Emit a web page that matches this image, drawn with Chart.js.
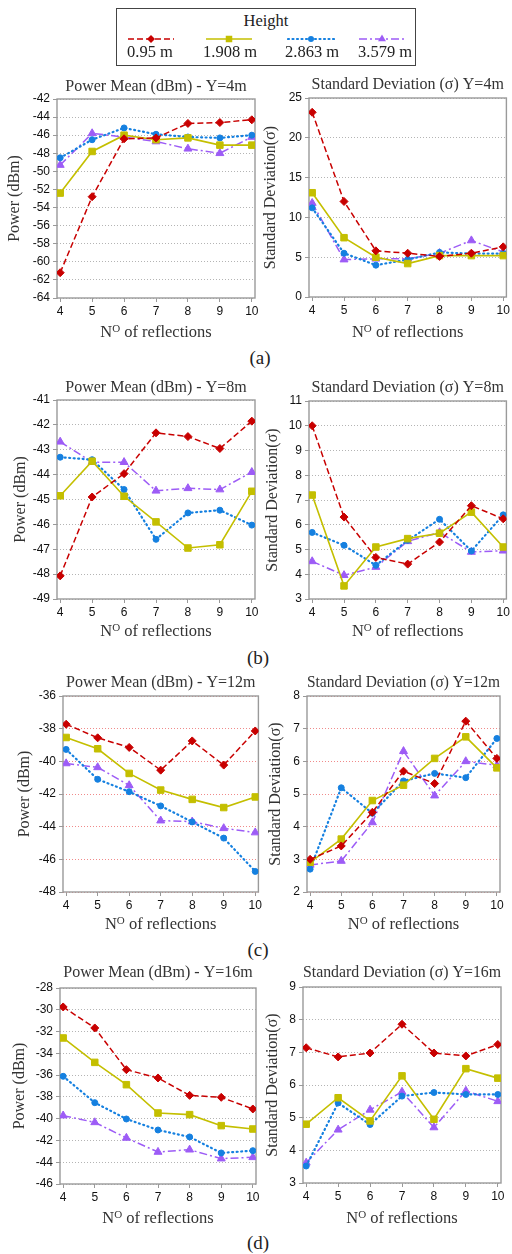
<!DOCTYPE html>
<html>
<head>
<meta charset="utf-8">
<title>Power mean and standard deviation vs. number of reflections</title>
<script src="https://cdn.jsdelivr.net/npm/chart.js"></script>
<style>
  body { margin: 0; background: #fff; width: 512px; height: 1254px; position: relative; overflow: hidden; font-family: "Liberation Serif", "Times New Roman", serif; color: #222; }
  canvas.panel { position: absolute; }
  .tag { position: absolute; font-size: 19px; transform: translate(-50%, -50%); white-space: nowrap; }
  #legend { position: absolute; left: 116px; top: 8px; width: 298px; height: 56px; border: 1px solid #444; }
  #legend .head { position: absolute; left: 0; width: 100%; top: 2px; text-align: center; font-size: 16.5px; }
  #legend .lbl { position: absolute; top: 33px; font-size: 16.5px; white-space: nowrap; }
  #legend canvas { position: absolute; top: 25px; }
</style>
</head>
<body>
<div id="legend"><div class="head">Height</div></div>
<div class="tag" style="left:260px; top:358px;">(a)</div>
<div class="tag" style="left:258px; top:658px;">(b)</div>
<div class="tag" style="left:258px; top:950px;">(c)</div>
<div class="tag" style="left:258px; top:1243px;">(d)</div>

<script>
// x axis: number of reflections
const reflections = [4, 5, 6, 7, 8, 9, 10];
// receiver heights (one series each)
const heights = ['0.95 m', '1.908 m', '2.863 m', '3.579 m'];

// Power mean (dBm), Y = 4 m
const pm4_095  = [-61.2, -52.8, -46.4, -46.3, -44.7, -44.6, -44.3];
const pm4_1908 = [-52.4, -47.8, -46.0, -46.5, -46.3, -47.1, -47.1];
const pm4_2863 = [-48.5, -46.5, -45.2, -45.9, -46.2, -46.3, -46.0];
const pm4_3579 = [-49.3, -45.8, -46.2, -46.7, -47.5, -48.0, -46.2];
// Standard deviation, Y = 4 m
const sd4_095  = [23.2, 12.0, 5.8, 5.5, 5.1, 5.5, 6.3];
const sd4_1908 = [13.1, 7.45, 5.0, 4.2, 5.2, 5.2, 5.2];
const sd4_2863 = [11.2, 5.5, 4.0, 4.7, 5.6, 5.45, 5.45];
const sd4_3579 = [11.8, 4.7, 4.8, 4.8, 5.5, 7.1, 5.65];

// Power mean (dBm), Y = 8 m
const pm8_095  = [-48.07, -44.9, -43.96, -42.32, -42.47, -42.95, -41.85];
const pm8_1908 = [-44.85, -43.46, -44.87, -45.9, -46.95, -46.82, -44.67];
const pm8_2863 = [-43.3, -43.4, -44.6, -46.6, -45.54, -45.43, -46.03];
const pm8_3579 = [-42.68, -43.5, -43.5, -44.65, -44.55, -44.6, -43.9];
// Standard deviation, Y = 8 m
const sd8_095  = [10.0, 6.31, 4.68, 4.41, 5.3, 6.77, 6.24];
const sd8_1908 = [7.2, 3.53, 5.1, 5.44, 5.66, 6.51, 5.1];
const sd8_2863 = [5.69, 5.17, 4.36, 5.37, 6.22, 4.94, 6.4];
const sd8_3579 = [4.52, 3.96, 4.29, 5.33, 5.69, 4.9, 4.95];

// Power mean (dBm), Y = 12 m
const pm12_095  = [-37.73, -38.56, -39.15, -40.54, -38.75, -40.23, -38.14];
const pm12_1908 = [-38.54, -39.23, -40.74, -41.76, -42.33, -42.83, -42.18];
const pm12_2863 = [-39.27, -41.1, -41.86, -42.73, -43.71, -44.7, -46.74];
const pm12_3579 = [-40.13, -40.37, -41.47, -43.63, -43.69, -44.1, -44.36];
// Standard deviation, Y = 12 m
const sd12_095  = [3.0, 3.41, 4.44, 5.7, 5.32, 7.23, 6.09];
const sd12_1908 = [2.91, 3.62, 4.8, 5.27, 6.09, 6.75, 5.8];
const sd12_2863 = [2.7, 5.19, 4.41, 5.4, 5.63, 5.5, 6.7];
const sd12_3579 = [2.83, 2.95, 4.13, 6.31, 4.95, 6.0, 5.88];

// Power mean (dBm), Y = 16 m
const pm16_095  = [-29.74, -31.67, -35.5, -36.26, -37.86, -38.04, -39.11];
const pm16_1908 = [-32.59, -34.83, -36.88, -39.48, -39.63, -40.64, -40.95];
const pm16_2863 = [-36.11, -38.53, -40.03, -41.04, -41.68, -43.15, -42.94];
const pm16_3579 = [-39.72, -40.34, -41.77, -43.06, -42.85, -43.67, -43.55];
// Standard deviation, Y = 16 m
const sd16_095  = [7.14, 6.86, 6.98, 7.86, 6.98, 6.89, 7.24];
const sd16_1908 = [4.8, 5.61, 4.9, 6.28, 4.95, 6.5, 6.21];
const sd16_2863 = [3.52, 5.45, 4.79, 5.66, 5.77, 5.71, 5.71];
const sd16_3579 = [3.62, 4.63, 5.24, 5.79, 4.7, 5.82, 5.5];

// line / marker look per height
const seriesColors = ['#c80000', '#c4bf00', '#1580e0', '#9d5cf6'];
const seriesDash = [[6, 3], [], [1, 3.5], [8, 3, 2, 3]];
const seriesWidth = [1.5, 1.6, 2.2, 1.5];
const seriesPoint = ['rectRot', 'rect', 'circle', 'triangle'];
const seriesRadius = [4, 4.6, 3, 4.6];

const SERIF = '"Liberation Serif", "Times New Roman", serif';
const SANS = '"Liberation Sans", Arial, sans-serif';

// panel geometry: plot box [left, top, right, bottom], title centre y, y-title centre x
const panels = [
  { side: 'L', box: [57, 99, 255, 298], titleY: 87, yTitleX: 15, xOff: 34, min: -64, max: -42, step: 2,
    title: 'Power Mean (dBm) - Y=4m', yTitle: 'Power (dBm)', series: [pm4_095, pm4_1908, pm4_2863, pm4_3579] },
  { side: 'R', box: [309, 98, 507, 297], titleY: 85, yTitleX: 271, xOff: 35, min: 0, max: 25, step: 5,
    title: 'Standard Deviation (σ) Y=4m', yTitle: 'Standard Deviation(σ)', series: [sd4_095, sd4_1908, sd4_2863, sd4_3579] },
  { side: 'L', box: [57, 400, 255, 599], titleY: 388, yTitleX: 21, xOff: 32, min: -49, max: -41, step: 1,
    title: 'Power Mean (dBm) - Y=8m', yTitle: 'Power (dBm)', series: [pm8_095, pm8_1908, pm8_2863, pm8_3579] },
  { side: 'R', box: [309, 401, 507, 599], titleY: 388, yTitleX: 273, xOff: 32, min: 3, max: 11, step: 1,
    title: 'Standard Deviation (σ) Y=8m', yTitle: 'Standard Deviation(σ)', series: [sd8_095, sd8_1908, sd8_2863, sd8_3579] },
  { side: 'L', box: [63, 696, 259, 892], titleY: 683, yTitleX: 25, xOff: 32, min: -48, max: -36, step: 2, grid: '#f08a8a',
    title: 'Power Mean (dBm) - Y=12m', yTitle: 'Power (dBm)', series: [pm12_095, pm12_1908, pm12_2863, pm12_3579] },
  { side: 'R', box: [307, 696, 500, 892], titleY: 683, yTitleX: 276, xOff: 32, min: 2, max: 8, step: 1, grid: '#f08a8a',
    title: 'Standard Deviation (σ) Y=12m', yTitle: 'Standard Deviation(σ)', series: [sd12_095, sd12_1908, sd12_2863, sd12_3579] },
  { side: 'L', box: [60, 988, 256, 1184], titleY: 973, yTitleX: 20, xOff: 34, min: -46, max: -28, step: 2,
    title: 'Power Mean (dBm) - Y=16m', yTitle: 'Power (dBm)', series: [pm16_095, pm16_1908, pm16_2863, pm16_3579] },
  { side: 'R', box: [303, 987, 501, 1183], titleY: 973, yTitleX: 273, xOff: 35, min: 3, max: 9, step: 1,
    title: 'Standard Deviation (σ) Y=16m', yTitle: 'Standard Deviation(σ)', series: [sd16_095, sd16_1908, sd16_2863, sd16_3579] }
];

// grey frame around the plot area
const framePlugin = {
  id: 'frame',
  beforeDatasetsDraw(chart) {
    const { ctx, chartArea: a } = chart;
    ctx.save();
    ctx.strokeStyle = '#9a9a9a';
    ctx.lineWidth = 1.4;
    ctx.strokeRect(a.left, a.top, a.right - a.left, a.bottom - a.top);
    ctx.restore();
  }
};

// "N^O of reflections" with a raised O
const reflTitlePlugin = {
  id: 'reflTitle',
  afterDraw(chart, args, opts) {
    const { ctx, chartArea: a } = chart;
    const base = a.bottom + opts.offset + 5;
    ctx.save();
    ctx.fillStyle = '#333';
    ctx.textBaseline = 'alphabetic';
    ctx.font = '16.5px ' + SERIF;
    const w1 = ctx.measureText('N').width;
    const w3 = ctx.measureText(' of reflections').width;
    ctx.font = '11px ' + SERIF;
    const w2 = ctx.measureText('O').width;
    let x = (a.left + a.right) / 2 - (w1 + w2 + w3) / 2;
    ctx.font = '16.5px ' + SERIF;
    ctx.fillText('N', x, base);
    ctx.font = '11px ' + SERIF;
    ctx.fillText('O', x + w1, base - 5);
    ctx.font = '16.5px ' + SERIF;
    ctx.fillText(' of reflections', x + w1 + w2, base);
    ctx.restore();
  }
};

function makePanel(p) {
  const cx = p.side === 'L' ? 0 : 258;
  const cw = p.side === 'L' ? 264 : 254;
  const cy = Math.round(p.titleY - 9.6);
  const xh = 46;
  const ch = p.box[3] + xh - cy;
  const pl = p.yTitleX - 9.6 - cx;
  const yw = p.box[0] - cx - pl;
  const pr = cx + cw - p.box[2];
  const tb = p.box[1] - cy - 19.2;

  const cv = document.createElement('canvas');
  cv.className = 'panel';
  cv.width = cw;
  cv.height = ch;
  cv.style.left = cx + 'px';
  cv.style.top = cy + 'px';
  document.body.appendChild(cv);

  const gridColor = p.grid || '#b4b4b4';

  new Chart(cv, {
    type: 'line',
    data: {
      datasets: p.series.map((vals, i) => ({
        label: heights[i],
        data: reflections.map((x, k) => ({ x: x, y: vals[k] })),
        borderColor: seriesColors[i],
        backgroundColor: seriesColors[i],
        borderDash: seriesDash[i],
        borderWidth: seriesWidth[i],
        borderCapStyle: i === 2 ? 'round' : 'butt',
        pointStyle: seriesPoint[i],
        pointRadius: seriesRadius[i],
        pointBorderWidth: 1,
        tension: 0,
        fill: false
      }))
    },
    options: {
      responsive: false,
      animation: false,
      layout: { padding: { left: pl, right: pr, top: 0, bottom: 0 } },
      plugins: {
        legend: { display: false },
        tooltip: { enabled: false },
        title: {
          display: true, text: p.title, fullSize: false, color: '#333',
          font: { family: SERIF, size: 16, weight: 'normal', lineHeight: 1.2 },
          padding: { top: 0, bottom: tb }
        },
        reflTitle: { offset: p.xOff }
      },
      scales: {
        x: {
          type: 'linear', min: 3.9, max: 10.1,
          afterBuildTicks: s => { s.ticks = reflections.map(v => ({ value: v })); },
          afterFit: s => { s.height = xh; s.paddingLeft = 0; s.paddingRight = 0; },
          grid: { drawOnChartArea: false, tickLength: 4, color: '#999' },
          border: { display: false },
          ticks: { font: { family: SANS, size: 12 }, color: '#111', padding: 2, autoSkip: false, maxRotation: 0 }
        },
        y: {
          min: p.min, max: p.max,
          afterFit: s => { s.width = yw; s.paddingTop = 0; s.paddingBottom = 0; },
          grid: { color: gridColor, tickColor: '#999', tickLength: 4 },
          border: { display: false, dash: [1, 2] },
          ticks: { stepSize: p.step, font: { family: SANS, size: 12 }, color: '#111', padding: 3, autoSkip: false },
          title: {
            display: true, text: p.yTitle, color: '#333', padding: 0,
            font: { family: SERIF, size: 16, weight: 'normal', lineHeight: 1.2 }
          }
        }
      }
    },
    plugins: [framePlugin, reflTitlePlugin]
  });
}

panels.forEach(makePanel);

// legend samples (line + marker) and labels
function drawMarker(ctx, style, x, y, r) {
  ctx.beginPath();
  if (style === 'circle') {
    ctx.arc(x, y, r, 0, Math.PI * 2);
  } else if (style === 'rect') {
    const s = r * Math.SQRT1_2;
    ctx.rect(x - s, y - s, 2 * s, 2 * s);
  } else if (style === 'rectRot') {
    ctx.moveTo(x, y - r); ctx.lineTo(x + r, y); ctx.lineTo(x, y + r); ctx.lineTo(x - r, y); ctx.closePath();
  } else {
    const h = r * 1.5, s = r * 0.866;
    ctx.moveTo(x, y - r); ctx.lineTo(x + s, y + h - r); ctx.lineTo(x - s, y + h - r); ctx.closePath();
  }
  ctx.fill();
}

const legendBox = document.getElementById('legend');
const legendLeft = [10, 88, 170, 241];
const labelLeft = [10, 86, 168, 241];
heights.forEach((h, i) => {
  const c = document.createElement('canvas');
  c.width = 48; c.height = 10;
  c.style.left = legendLeft[i] + 'px';
  legendBox.appendChild(c);
  const g = c.getContext('2d');
  g.strokeStyle = seriesColors[i];
  g.fillStyle = seriesColors[i];
  g.lineWidth = seriesWidth[i];
  g.lineCap = i === 2 ? 'round' : 'butt';
  g.setLineDash(seriesDash[i]);
  g.beginPath(); g.moveTo(1, 5); g.lineTo(47, 5); g.stroke();
  g.setLineDash([]);
  drawMarker(g, seriesPoint[i], 24, 5, seriesRadius[i]);

  const t = document.createElement('div');
  t.className = 'lbl';
  t.style.left = labelLeft[i] + 'px';
  t.textContent = h;
  legendBox.appendChild(t);
});
</script>
</body>
</html>
